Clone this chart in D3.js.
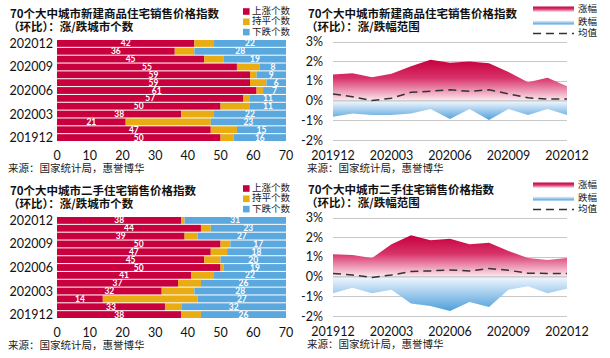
<!DOCTYPE html>
<html><head><meta charset="utf-8">
<script src="https://cdn.jsdelivr.net/npm/d3@7"></script>
<style>
html,body{margin:0;padding:0;background:#fff;}
svg text{font-family:"Noto Sans CJK SC","Noto Sans",sans-serif;}
.num{font-family:Lato,"Noto Sans",sans-serif;}
</style></head>
<body><svg id="c" width="610" height="358"></svg>
<script>
const months = ["201912","202001","202002","202003","202004","202005","202006","202007","202008","202009","202010","202011","202012"];
const yLabelMonths = ["201912","202003","202006","202009","202012"];
const barTicks = [0,10,20,30,40,50,60,70];
const pctTicks = [3,2,1,0,-1,-2];

// New homes: counts of cities up / flat / down
const newUp   = [50,47,21,38,50,57,61,59,59,55,45,36,42];
const newFlat = [4,8,26,10,9,2,2,5,2,7,6,6,6];
const newDown = [16,15,23,22,11,11,7,6,9,8,19,28,22];
// Second-hand homes
const sndUp   = [38,33,14,32,37,41,50,45,47,50,39,44,38];
const sndFlat = [6,5,29,10,7,7,1,5,5,3,4,3,1];
const sndDown = [26,32,27,28,26,22,19,20,18,17,27,23,31];

// Range (%): max rise, max fall, mean
const newMax  = [1.33,1.39,1.19,1.36,1.75,2.07,1.92,1.99,1.90,1.45,0.93,1.16,0.73];
const newMin  = [-0.82,-0.65,-0.73,-0.73,-0.65,-0.43,-0.94,-0.43,-0.99,-0.43,-0.73,-0.43,-0.73];
const newAvg  = [0.34,0.20,0.00,0.12,0.42,0.48,0.55,0.47,0.55,0.34,0.14,0.08,0.08];
const sndMax  = [1.14,1.10,0.94,1.64,2.10,1.84,1.92,1.64,1.72,1.30,0.94,0.84,0.94];
const sndMin  = [-0.84,-0.57,-0.84,-0.67,-1.37,-1.49,-1.74,-1.29,-1.54,-0.67,-0.49,-0.84,-0.62];
const sndAvg  = [0.16,0.08,-0.04,0.08,0.26,0.29,0.34,0.29,0.41,0.32,0.17,0.16,0.16];

const RED="#c8003e", YEL="#e9ac12", BLUE="#5aa8de";
const svg = d3.select("#c");
const defs = svg.append("defs");
const gr = defs.append("linearGradient").attr("id","gRed").attr("x1",0).attr("y1",0).attr("x2",0).attr("y2",1);
gr.append("stop").attr("offset","0%").attr("stop-color","#c6003d");
gr.append("stop").attr("offset","45%").attr("stop-color","#d8336a");
gr.append("stop").attr("offset","100%").attr("stop-color","#fde9ef");
const gb = defs.append("linearGradient").attr("id","gBlue").attr("x1",0).attr("y1",0).attr("x2",0).attr("y2",1);
gb.append("stop").attr("offset","0%").attr("stop-color","#eef5fd");
gb.append("stop").attr("offset","100%").attr("stop-color","#4e9fdb");

function title(x, y, l1, l2){
  svg.append("text").attr("x",x).attr("y",y).attr("font-size",11.5).attr("font-weight","bold").attr("fill","#111").text(l1);
  svg.append("text").attr("x",x-2).attr("y",y+13).attr("font-size",11.5).attr("font-weight","bold").attr("fill","#111").text(l2);
}
function source(x, y){
  svg.append("text").attr("x",x).attr("y",y).attr("dominant-baseline","middle").attr("font-size",10.5).attr("fill","#222").text("来源：国家统计局，惠誉博华");
}

function barPanel(oy, t1, up, flat, down){
  title(10, 18+oy, t1, "（环比）：涨/跌城市个数");
  const leg = [["上涨个数",RED],["持平个数",YEL],["下跌个数",BLUE]];
  leg.forEach((d,i)=>{
    const cy = 11.5 + i*10.3 + oy;
    svg.append("rect").attr("x",243).attr("y",cy-3.3).attr("width",6.6).attr("height",6.6).attr("fill",d[1]);
    svg.append("text").attr("x",252).attr("y",cy).attr("dominant-baseline","middle").attr("font-size",9.5).attr("fill","#222").text(d[0]);
  });
  const x = d3.scaleLinear().domain([0,70]).range([57,286]);
  const y = d3.scaleBand().domain(months.slice().reverse()).range([40+oy,141+oy]).paddingInner(0.13);
  const g = svg.append("g");
  months.forEach((m,i)=>{
    const segs = [[0,up[i],RED],[up[i],up[i]+flat[i],YEL],[up[i]+flat[i],70,BLUE]];
    segs.forEach(s=>{
      g.append("rect").attr("x",x(s[0])).attr("y",y(m)).attr("width",Math.max(0,x(s[1])-x(s[0]))).attr("height",y.bandwidth()).attr("fill",s[2]);
    });
    const cy = y(m)+y.bandwidth()/2;
    g.append("text").attr("class","num").attr("x",x(up[i]/2)).attr("y",cy).attr("dominant-baseline","central").attr("text-anchor","middle")
      .attr("font-size",8.5).attr("font-weight","bold").attr("fill","#fff").text(up[i]);
    g.append("text").attr("class","num").attr("x",x(70-down[i]/2)).attr("y",cy).attr("dominant-baseline","central").attr("text-anchor","middle")
      .attr("font-size",8.5).attr("font-weight","bold").attr("fill","#fff").text(down[i]);
  });
  yLabelMonths.forEach(m=>{
    svg.append("text").attr("class","num").attr("x",53).attr("y",y(m)+y.bandwidth()/2).attr("dominant-baseline","central")
      .attr("text-anchor","end").attr("font-size",12.5).attr("fill","#111").text(m);
  });
  barTicks.forEach(t=>{
    svg.append("text").attr("class","num").attr("x",x(t)).attr("y",155.5+oy).attr("dominant-baseline","central")
      .attr("text-anchor","middle").attr("font-size",12.5).attr("fill","#111").text(t);
  });
  source(8, 169+oy);
}

function areaPanel(oy, t1, mx, mn, avg){
  title(308, 18+oy, t1, "（环比）：涨/跌幅范围");
  svg.append("rect").attr("x",533).attr("y",6.5+oy).attr("width",41).attr("height",5.5).attr("fill","url(#gRed)");
  svg.append("rect").attr("x",533).attr("y",20.5+oy).attr("width",41).attr("height",4).attr("fill","url(#gBlue)");
  svg.append("line").attr("x1",533).attr("x2",574).attr("y1",33.5+oy).attr("y2",33.5+oy).attr("stroke","#333").attr("stroke-width",1.5).attr("stroke-dasharray","8,5");
  [["涨幅",9.5],["跌幅",22],["均值",33.5]].forEach(d=>{
    svg.append("text").attr("x",578).attr("y",d[1]+oy).attr("dominant-baseline","middle").attr("font-size",9.5).attr("fill","#222").text(d[0]);
  });
  const x = d3.scalePoint().domain(months).range([333,567]);
  const y = d3.scaleLinear().domain([-2,3]).range([140+oy,41.5+oy]);
  pctTicks.forEach(t=>{
    svg.append("line").attr("x1",333).attr("x2",567).attr("y1",Math.round(y(t))+0.5).attr("y2",Math.round(y(t))+0.5).attr("stroke","#c8c8c8").attr("stroke-width",1);
    svg.append("text").attr("class","num").attr("x",323).attr("y",y(t)).attr("dominant-baseline","central").attr("text-anchor","end")
      .attr("font-size",12.5).attr("fill","#111").text(t+"%");
  });
  const aUp = d3.area().x((d,i)=>x(months[i])).y0(y(0)).y1(d=>y(d));
  const aDn = d3.area().x((d,i)=>x(months[i])).y0(y(0)+1).y1(d=>y(d));
  svg.append("path").attr("d",aUp(mx)).attr("fill","url(#gRed)");
  svg.append("path").attr("d",aDn(mn)).attr("fill","url(#gBlue)");
  svg.append("line").attr("x1",333).attr("x2",567).attr("y1",y(0)).attr("y2",y(0)).attr("stroke","#c8c8c8").attr("stroke-width",1);
  const ln = d3.line().x((d,i)=>x(months[i])).y(d=>y(d));
  svg.append("path").attr("d",ln(avg)).attr("fill","none").attr("stroke","#333").attr("stroke-width",1.5).attr("stroke-dasharray","8,5");
  ["201912","202003","202006","202009","202012"].forEach(m=>{
    svg.append("text").attr("class","num").attr("x",x(m)).attr("y",155.5+oy).attr("dominant-baseline","central")
      .attr("text-anchor","middle").attr("font-size",12.5).attr("fill","#111").text(m);
  });
  source(307, 169+oy);
}

barPanel(0, "70个大中城市新建商品住宅销售价格指数", newUp, newFlat, newDown);
barPanel(177, "70个大中城市二手住宅销售价格指数", sndUp, sndFlat, sndDown);
areaPanel(0, "70个大中城市新建商品住宅销售价格指数", newMax, newMin, newAvg);
areaPanel(176, "70个大中城市二手住宅销售价格指数", sndMax, sndMin, sndAvg);
</script></body></html>
